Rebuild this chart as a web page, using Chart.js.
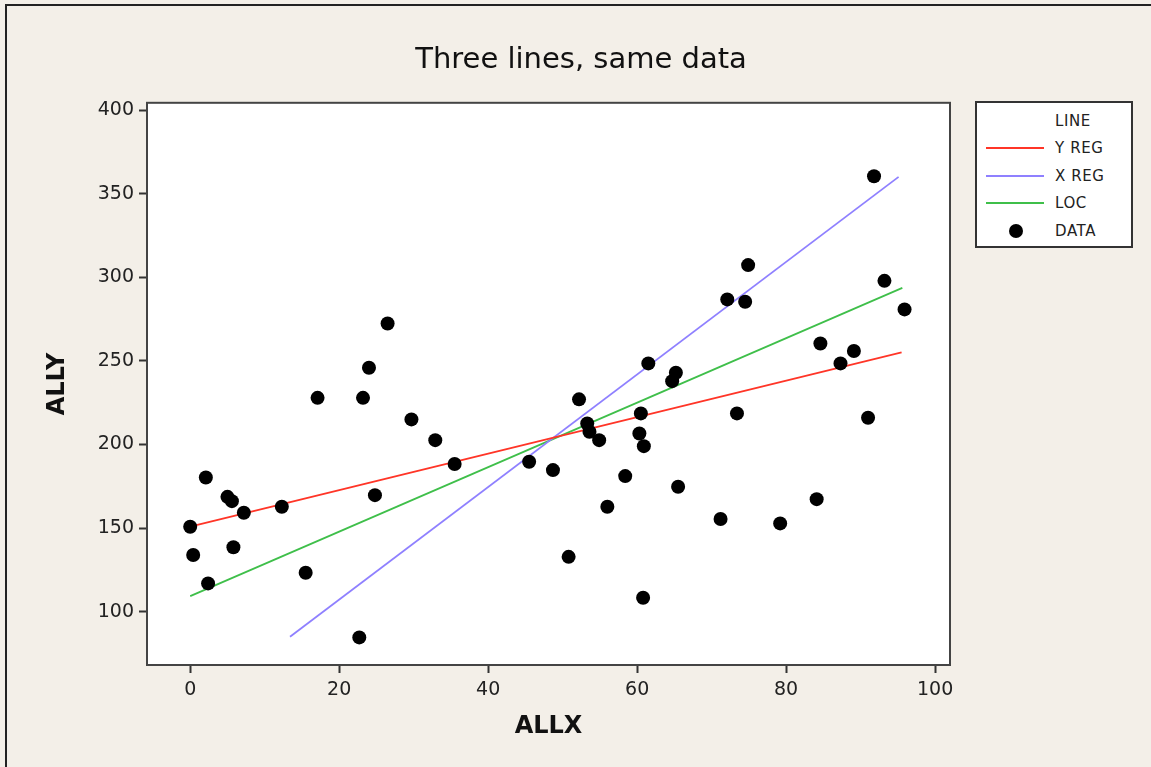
<!DOCTYPE html>
<html>
<head>
<meta charset="utf-8">
<title>Three lines, same data</title>
<script src="https://cdn.jsdelivr.net/npm/chart.js@4.4.1/dist/chart.umd.min.js"></script>
<style>
    html, body { margin: 0; padding: 0; overflow: hidden; background: #f3efe8; }
    #frame { position: absolute; left: 5px; top: 4px; width: 1300px; height: 900px;
             border-left: 2px solid #222; border-top: 2px solid #222; }
    #chart { position: absolute; left: 0; top: 0; }
    #legend { position: absolute; left: 975px; top: 101px; width: 154px; height: 143px;
              background: #fff; border: 2px solid #333; font-family: 'DejaVu Sans', sans-serif;
              font-size: 15px; letter-spacing: 0.6px; color: #222; }
    .row { position: absolute; left: 0; width: 100%; height: 20px; }
    .row span { position: absolute; left: 78px; top: 0; line-height: 20px; }
    .row i { position: absolute; left: 9px; top: 9px; width: 58px; height: 2px; }
    .row b { position: absolute; left: 32px; top: 3px; width: 14px; height: 14px; border-radius: 50%; background: #000; }
</style>
</head>
<body>
<div id="frame"></div>
<canvas id="chart" width="1162" height="767"></canvas>
<div id="legend"></div>
<script>
'use strict';

var allX = [0, 0.4, 2.1, 2.4, 5.0, 5.6, 5.8, 7.2, 12.3, 15.5,
            17.1, 22.7, 23.2, 24.0, 24.8, 26.5, 29.7, 32.9, 35.5, 45.5,
            48.7, 50.8, 52.2, 53.3, 53.6, 54.9, 56.0, 58.4, 60.3, 60.5,
            60.8, 60.9, 61.5, 64.7, 65.2, 65.5, 71.2, 72.1, 73.4, 74.5,
            74.9, 79.2, 84.1, 84.6, 87.3, 89.1, 91.0, 91.8, 93.2, 95.9];
var allY = [150.8, 133.9, 180.3, 116.9, 168.7, 166.1, 138.5, 159.2, 162.8, 123.3,
            227.9, 84.6, 227.9, 245.9, 169.7, 272.4, 215.0, 202.6, 188.3, 189.7,
            184.7, 132.8, 227.0, 212.6, 207.6, 202.6, 162.8, 181.1, 206.6, 218.6,
            108.3, 199.0, 248.5, 237.9, 242.9, 174.7, 155.4, 286.8, 218.6, 285.4,
            307.3, 152.8, 167.3, 260.4, 248.5, 255.9, 216.0, 360.5, 297.9, 280.8];

// end points of the three fitted lines
var yRegX = [0, 95.5];
var yRegY = [150.8, 255.1];
var xRegX = [13.4, 95.1];
var xRegY = [85.0, 360.1];
var locX = [0, 95.6];
var locY = [109.3, 293.7];

var xTicks = [0, 20, 40, 60, 80, 100];
var yTicks = [100, 150, 200, 250, 300, 350, 400];

function toPoints(xs, ys) {
    var pts = [];
    for (var i = 0; i < xs.length; i++) {
        pts.push({x: xs[i], y: ys[i]});
    }
    return pts;
}

function lineSet(label, xs, ys, color) {
    return {
        label: label,
        data: toPoints(xs, ys),
        showLine: true,
        borderColor: color,
        backgroundColor: color,
        borderWidth: 1.8,
        pointRadius: 0,
        order: 1
    };
}

var plotFrame = {
    id: 'plotFrame',
    beforeDraw: function(chart) {
        var a = chart.chartArea;
        var ctx = chart.ctx;
        ctx.save();
        ctx.fillStyle = '#ffffff';
        ctx.fillRect(a.left, a.top, a.right - a.left, a.bottom - a.top);
        ctx.restore();
    },
    afterDraw: function(chart) {
        var a = chart.chartArea;
        var ctx = chart.ctx;
        ctx.save();
        ctx.strokeStyle = '#444';
        ctx.lineWidth = 2;
        ctx.strokeRect(a.left, a.top, a.right - a.left, a.bottom - a.top);
        ctx.restore();
    }
};

var tickFont = {family: 'DejaVu Sans', size: 19};
var titleFont = {family: 'DejaVu Sans', size: 24, weight: 'bold'};

var ctx = document.getElementById('chart').getContext('2d');
var chart = new Chart(ctx, {
    type: 'scatter',
    data: {
        datasets: [
            lineSet('Y REG', yRegX, yRegY, '#ff3527'),
            lineSet('X REG', xRegX, xRegY, '#8f80ff'),
            lineSet('LOC', locX, locY, '#3fbf4a'),
            {
                label: 'DATA',
                data: toPoints(allX, allY),
                pointStyle: 'circle',
                pointRadius: 7,
                pointBackgroundColor: '#000',
                pointBorderColor: '#000',
                pointBorderWidth: 0,
                order: 0
            }
        ]
    },
    options: {
        responsive: false,
        animation: false,
        layout: {padding: 0},
        plugins: {
            legend: {display: false},
            tooltip: {enabled: false},
            title: {
                display: true,
                text: 'Three lines, same data',
                color: '#111',
                font: {family: 'DejaVu Sans', size: 29, weight: 'normal'},
                padding: {top: 43, bottom: 25}
            }
        },
        scales: {
            x: {
                type: 'linear',
                min: -5.8,
                max: 102,
                afterBuildTicks: function(scale) {
                    scale.ticks = xTicks.map(function(v) { return {value: v}; });
                },
                afterFit: function(scale) { scale.height = 102; },
                grid: {drawOnChartArea: false, tickLength: 8, tickWidth: 2, tickColor: '#333'},
                border: {display: false},
                ticks: {font: tickFont, color: '#222', padding: 6, maxRotation: 0},
                title: {display: true, text: 'ALLX', font: titleFont, color: '#111', padding: {top: 0, bottom: 26}}
            },
            y: {
                type: 'linear',
                min: 68.1,
                max: 404.4,
                afterBuildTicks: function(scale) {
                    scale.ticks = yTicks.map(function(v) { return {value: v}; });
                },
                afterFit: function(scale) { scale.width = 147; },
                grid: {drawOnChartArea: false, tickLength: 8, tickWidth: 2, tickColor: '#333'},
                border: {display: false},
                ticks: {font: tickFont, color: '#222', padding: 5},
                title: {display: true, text: 'ALLY', font: titleFont, color: '#111', padding: {top: 43, bottom: 0}}
            },
            // empty right-hand strip that holds the legend area, so the title centres on the whole frame
            side: {
                type: 'linear',
                position: 'right',
                afterFit: function(scale) { scale.width = 1162 - 950; },
                grid: {display: false},
                border: {display: false},
                ticks: {display: false}
            }
        }
    },
    plugins: [plotFrame]
});

// legend box built from the chart datasets
var legendEl = document.getElementById('legend');
var header = document.createElement('div');
header.className = 'row';
header.style.top = '8px';
header.innerHTML = '<span>LINE</span>';
legendEl.appendChild(header);
chart.data.datasets.forEach(function(ds, i) {
    var row = document.createElement('div');
    row.className = 'row';
    row.style.top = (35 + i * 27.7) + 'px';
    var mark = ds.showLine ? document.createElement('i') : document.createElement('b');
    if (ds.showLine) mark.style.background = ds.borderColor;
    var txt = document.createElement('span');
    txt.textContent = ds.label;
    row.appendChild(mark);
    row.appendChild(txt);
    legendEl.appendChild(row);
});
</script>
</body>
</html>
